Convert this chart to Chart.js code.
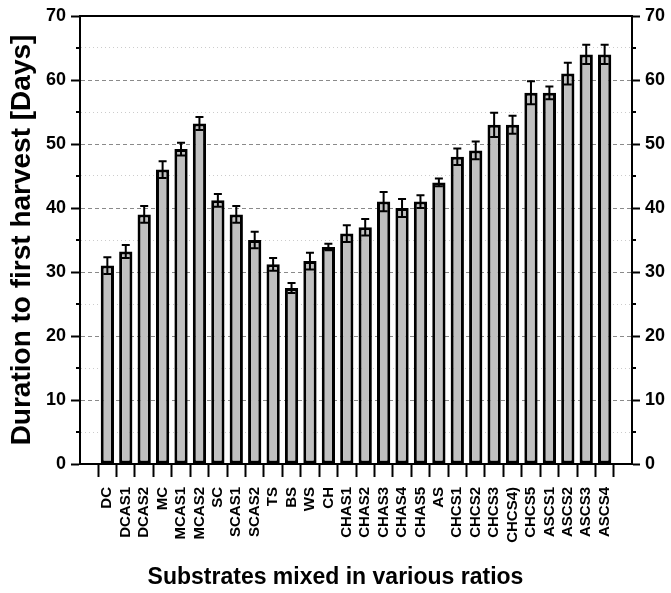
<!DOCTYPE html>
<html>
<head>
<meta charset="utf-8">
<script src="https://cdn.jsdelivr.net/npm/chart.js@4.4.1/dist/chart.umd.min.js"></script>
<style>
  html, body { margin: 0; padding: 0; background: #fff; }
  #wrap { width: 671px; height: 593px; }
</style>
</head>
<body>
<div id="wrap"><canvas id="harvestChart"></canvas></div>
<script>
// substrate mixes (x categories)
const substrates = [
  "DC", "DCAS1", "DCAS2", "MC", "MCAS1", "MCAS2", "SC", "SCAS1", "SCAS2",
  "TS", "BS", "WS", "CH", "CHAS1", "CHAS2", "CHAS3", "CHAS4", "CHAS5", "AS",
  "CHCS1", "CHCS2", "CHCS3", "CHCS4)", "CHCS5", "ASCS1", "ASCS2", "ASCS3", "ASCS4"
];
// days to first harvest (mean) and the error bar half-length
const daysToHarvest = [31, 33.2, 39, 46, 49.2, 53.2, 41.2, 39, 35, 31.2, 27.5, 31.7, 33.9, 36, 37, 41, 40, 41, 44, 48, 49, 53, 53, 58, 58, 61, 64, 64];
const daysError = [1.3, 1, 1.3, 1.3, 1, 1, 1, 1.3, 1.3, 1, 0.8, 1.3, 0.5, 1.3, 1.3, 1.5, 1.4, 1, 0.6, 1.3, 1.4, 1.9, 1.4, 1.8, 1, 1.7, 1.5, 1.5];
// y axis range
const yMin = 0;
const yMax = 70;
const yMinorStep = 5;

const FONT = "'Liberation Sans', Arial, sans-serif";
Chart.defaults.font.family = FONT;
Chart.defaults.color = "#000";

const isMajor = (v) => v % 10 === 0;

// error bars, drawn on top of the bars
const errorBars = {
  id: "errorBars",
  afterDatasetsDraw(chart) {
    const { ctx } = chart;
    const yScale = chart.scales.y;
    const meta = chart.getDatasetMeta(0);
    ctx.save();
    ctx.strokeStyle = "#000";
    ctx.lineWidth = 2;
    meta.data.forEach((bar, i) => {
      const top = yScale.getPixelForValue(daysToHarvest[i] + daysError[i]);
      const bot = yScale.getPixelForValue(daysToHarvest[i] - daysError[i]);
      ctx.beginPath();
      ctx.moveTo(bar.x, top);
      ctx.lineTo(bar.x, bot);
      ctx.moveTo(bar.x - 4, top);
      ctx.lineTo(bar.x + 4, top);
      ctx.moveTo(bar.x - 4, bot);
      ctx.lineTo(bar.x + 4, bot);
      ctx.stroke();
    });
    ctx.restore();
  },
};

// closed frame + short minor ticks on both y axes
const frame = {
  id: "frame",
  afterDraw(chart) {
    const { ctx, chartArea: a } = chart;
    const yScale = chart.scales.y;
    ctx.save();
    ctx.strokeStyle = "#000";
    ctx.lineWidth = 2;
    ctx.strokeRect(a.left, a.top, a.right - a.left, a.bottom - a.top);
    ctx.beginPath();
    for (let v = yMin + yMinorStep; v < yMax; v += 2 * yMinorStep) {
      const py = yScale.getPixelForValue(v);
      ctx.moveTo(a.left - 4, py);
      ctx.lineTo(a.left, py);
      ctx.moveTo(a.right, py);
      ctx.lineTo(a.right + 4, py);
    }
    ctx.stroke();
    ctx.restore();
  },
};

const yTickOpts = {
  stepSize: yMinorStep,
  callback: (v) => (isMajor(v) ? v : ""),
  font: { size: 18, weight: "bold" },
  color: "#000",
  padding: 5,
};

new Chart(document.getElementById("harvestChart"), {
  type: "bar",
  data: {
    datasets: [
      {
        data: substrates.map((_, i) => ({ x: i, y: daysToHarvest[i] })),
        backgroundColor: "#c0c0c0",
        borderColor: "#000",
        borderWidth: 3,
        borderSkipped: false,
        barPercentage: 0.72,
        categoryPercentage: 1,
      },
    ],
  },
  options: {
    responsive: true,
    maintainAspectRatio: false,
    animation: false,
    layout: { padding: { top: 16, left: 0, right: 0, bottom: 0 } },
    plugins: {
      legend: { display: false },
      tooltip: { enabled: false },
      title: {
        display: true,
        position: "bottom",
        text: "Substrates mixed in various ratios",
        color: "#000",
        font: { size: 23, weight: "bold" },
        padding: { top: 0, bottom: 2 },
      },
    },
    scales: {
      x: {
        type: "linear",
        min: -0.95,
        max: substrates.length - 0.05,
        afterFit: (s) => { s.height = 99.4; },
        ticks: {
          stepSize: 1,
          includeBounds: false,
          autoSkip: false,
          minRotation: 90,
          maxRotation: 90,
          callback: (v) => substrates[v] ?? "",
          font: { size: 15, weight: "bold" },
          color: "#000",
          padding: 10,
        },
        grid: { drawOnChartArea: false, tickLength: 13, tickWidth: 2, tickColor: "#000" },
        border: { color: "#000", width: 2 },
      },
      y: {
        position: "left",
        min: yMin,
        max: yMax,
        afterFit: (s) => { s.width = 80; },
        ticks: yTickOpts,
        grid: {
          color: (c) => (isMajor(c.tick.value) ? "#8a8a8a" : "#cccccc"),
          lineWidth: 1,
          tickLength: 9,
          tickWidth: 2,
          tickColor: (c) => (isMajor(c.tick.value) ? "#000" : "rgba(0,0,0,0)"),
        },
        border: {
          color: "#000",
          width: 2,
          dash: (c) => (c.type === "tick" ? (isMajor(c.tick.value) ? [4, 3] : [1, 3]) : []),
        },
        title: {
          display: true,
          text: "Duration to first harvest [Days]",
          color: "#000",
          font: { size: 28, weight: "bold" },
          padding: { top: 5 },
        },
      },
      y2: {
        position: "right",
        min: yMin,
        max: yMax,
        afterFit: (s) => { s.width = 39; },
        ticks: yTickOpts,
        grid: {
          drawOnChartArea: false,
          tickLength: 8,
          tickWidth: 2,
          tickColor: (c) => (isMajor(c.tick.value) ? "#000" : "rgba(0,0,0,0)"),
        },
        border: { color: "#000", width: 2 },
      },
    },
  },
  plugins: [errorBars, frame],
});
</script>
</body>
</html>
